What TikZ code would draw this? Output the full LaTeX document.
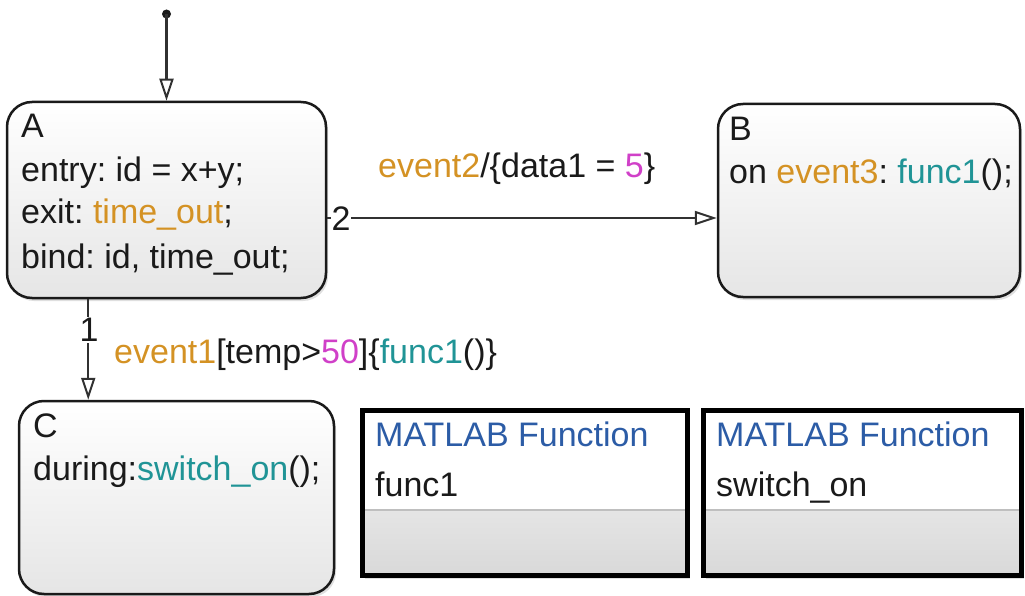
\documentclass[tikz,border=0pt]{standalone}
\usepackage{fontspec}
\setmainfont{Liberation Sans}
\usetikzlibrary{arrows.meta,shadows}
\definecolor{evtcol}{RGB}{212,146,36}
\definecolor{numcol}{RGB}{208,64,200}
\definecolor{funcol}{RGB}{32,148,150}
\definecolor{mlblue}{RGB}{44,92,166}
\definecolor{ink}{RGB}{26,26,26}
\newcommand\cEvt[1]{\textcolor{evtcol}{#1}}
\newcommand\cNum[1]{\textcolor{numcol}{#1}}
\newcommand\cFun[1]{\textcolor{funcol}{#1}}
\frenchspacing
\begin{document}
\begin{tikzpicture}[x=1pt,y=-1pt,
  every node/.style={font=\fontsize{34}{40}\selectfont, text=ink},
  txt/.style={inner sep=0pt, anchor=base west},
  state/.style={draw=ink, line width=2.5pt, rounded corners=25pt,
    top color=white, bottom color=black!10, inner sep=0pt,
    drop shadow={opacity=0.25, shadow xshift=2pt, shadow yshift=-3pt}},
  fbox/.style={draw=black, line width=5pt, fill=white, inner sep=0pt,
    drop shadow={opacity=0.25, shadow xshift=2pt, shadow yshift=-4pt},
    path picture={
      \shade[top color=black!3, bottom color=black!15]
        ([yshift=-100pt]path picture bounding box.north west) rectangle (path picture bounding box.south east);
      \draw[black!25, line width=1.5pt]
        ([yshift=-100pt]path picture bounding box.north west) -- ([yshift=-100pt]path picture bounding box.north east);}},
  trans/.style={draw=ink!90, line width=2.2pt,
    -{Triangle[open, length=22pt, width=14pt, line width=2pt]}},
  numlab/.style={fill=white, inner sep=1pt}
]
\useasboundingbox (0,0) rectangle (1025,596);

% states
\node[state, minimum width=319pt, minimum height=196pt] (A) at (166.5,200) {};
\node[state, minimum width=302pt, minimum height=193pt] (B) at (869,200.5) {};
\node[state, minimum width=315pt, minimum height=193pt] (C) at (176.5,497.5) {};

% MATLAB function boxes
\node[fbox, minimum width=325pt, minimum height=165pt] (F1) at (525,492.5) {};
\node[fbox, minimum width=318pt, minimum height=165pt] (F2) at (862.5,492.5) {};

% state texts
\node[txt] (Aname) at (21,138) {A};
\node[txt] (Aentry) at (21,182) {entry: id = x+y;};
\node[txt] (Aexit) at (21,224) {exit: \cEvt{time\_out};};
\node[txt] (Abind) at (21,268) {bind: id, time\_out;};

\node[txt] (Bname) at (729,141) {B};
\node[txt] (Bon) at (729,184) {on \cEvt{event3}: \cFun{func1}();};

\node[txt] (Cname) at (33,437) {C};
\node[txt] (Cdur) at (33,480) {during:\cFun{switch\_on}();};

% function box texts
\node[txt, text=mlblue] (F1title) at (375,446) {MATLAB Function};
\node[txt] (F1name) at (375,496) {func1};
\node[txt, text=mlblue] (F2title) at (716,446) {MATLAB Function};
\node[txt] (F2name) at (716,496) {switch\_on};

% default transition
\coordinate (init) at (166.5,14);
\fill[ink] (init) circle (4.5);
\draw[trans] (init) -- (A.north);

% transition 2: A -> B
\draw[trans] ([yshift=-18pt]A.east) -- ([yshift=-17.5pt]B.west);
\node[numlab] (n2) at (341,219) {2};
\node[txt] (l2) at (378,178) {\cEvt{event2}/\{data1 = \cNum{5}\}};

% transition 1: A -> C
\coordinate (t1) at ([xshift=82.5pt]A.south west);
\draw[trans] (t1) -- (t1 |- C.north);
\node[numlab] (n1) at (89,330) {1};
\node[txt] (l1) at (114,363) {\cEvt{event1}[temp>\cNum{50}]\{\cFun{func1}()\}};
\end{tikzpicture}
\end{document}
